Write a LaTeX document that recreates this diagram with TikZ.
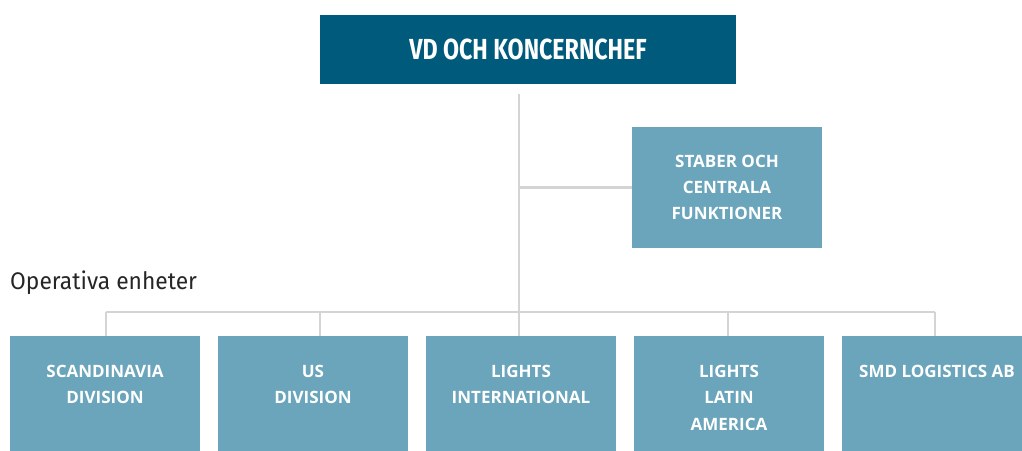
\documentclass[tikz,border=0pt]{standalone}
\usepackage{fontspec}
\setmainfont{Fira Sans}
\newfontfamily\titlefont[FakeStretch=0.8]{Fira Sans}
\newfontfamily\notefont[FakeStretch=0.95]{Fira Sans}
\newfontfamily\boxfont{Open Sans}
\definecolor{ceoblue}{HTML}{005A7B}
\definecolor{unitblue}{HTML}{6AA5BC}
\definecolor{linegray}{HTML}{D4D4D4}
\begin{document}
\begin{tikzpicture}[x=1pt, y=-1pt, line join=round,
		ceobox/.style={fill=ceoblue, text=white, minimum width=416pt, minimum height=69pt, inner sep=0pt,
			font=\titlefont\bfseries\fontsize{29}{32}\selectfont},
		unitbox/.style={fill=unitblue, minimum width=190pt, minimum height=121pt, inner sep=0pt, anchor=north},
		unittext/.style={text=white, align=center, inner sep=0pt, font=\boxfont\bfseries\fontsize{17}{26.4}\selectfont},
		link/.style={draw=linegray, line width=2.8pt}]
	\useasboundingbox (0,0) rectangle (1022,450);
	\def\busy{312}  % hoejd for tvaerlinjen
	% ledning
	\node[ceobox] (ceo) at (528,49) {VD OCH KONCERNCHEF};
	\node[unitbox, anchor=center, unittext] (staff) at (727,187.5) {STABER OCH\\CENTRALA\\FUNKTIONER};
	% operativa enheter
	\node[anchor=base west, inner sep=0pt, font=\notefont\fontsize{24}{28}\selectfont, text=black!85] (ops) at (10,289) {Operativa enheter};
	\foreach \name/\x/\txt in {scan/105/{SCANDINAVIA\\DIVISION}, us/313/{US\\DIVISION},
		intl/521/{LIGHTS\\INTERNATIONAL}, latam/729/{LIGHTS\\LATIN\\AMERICA}, smd/937/{SMD LOGISTICS AB}}
		\node[unitbox, label={[unittext, anchor=north, yshift=-29pt]north:\txt}] (\name) at (\x,336) {};
	% linjer
	\coordinate (top) at ([xshift=-2pt, yshift=-10pt]ceo.south -| intl.north);
	\coordinate (bus) at (top |- 0,\busy);
	\draw[link] (top) -- (bus);
	\draw[link] (staff.west) -- (staff.west -| top);
	\draw[link] ([xshift=1pt]scan.north |- bus) -- ([xshift=-2pt]smd.north |- bus);
	\foreach \name/\dx in {scan/1, us/7, intl/-2, latam/-1, smd/-2}
		\draw[link] ([xshift=\dx pt]\name.north |- bus) -- ([xshift=\dx pt]\name.north);
\end{tikzpicture}
\end{document}
